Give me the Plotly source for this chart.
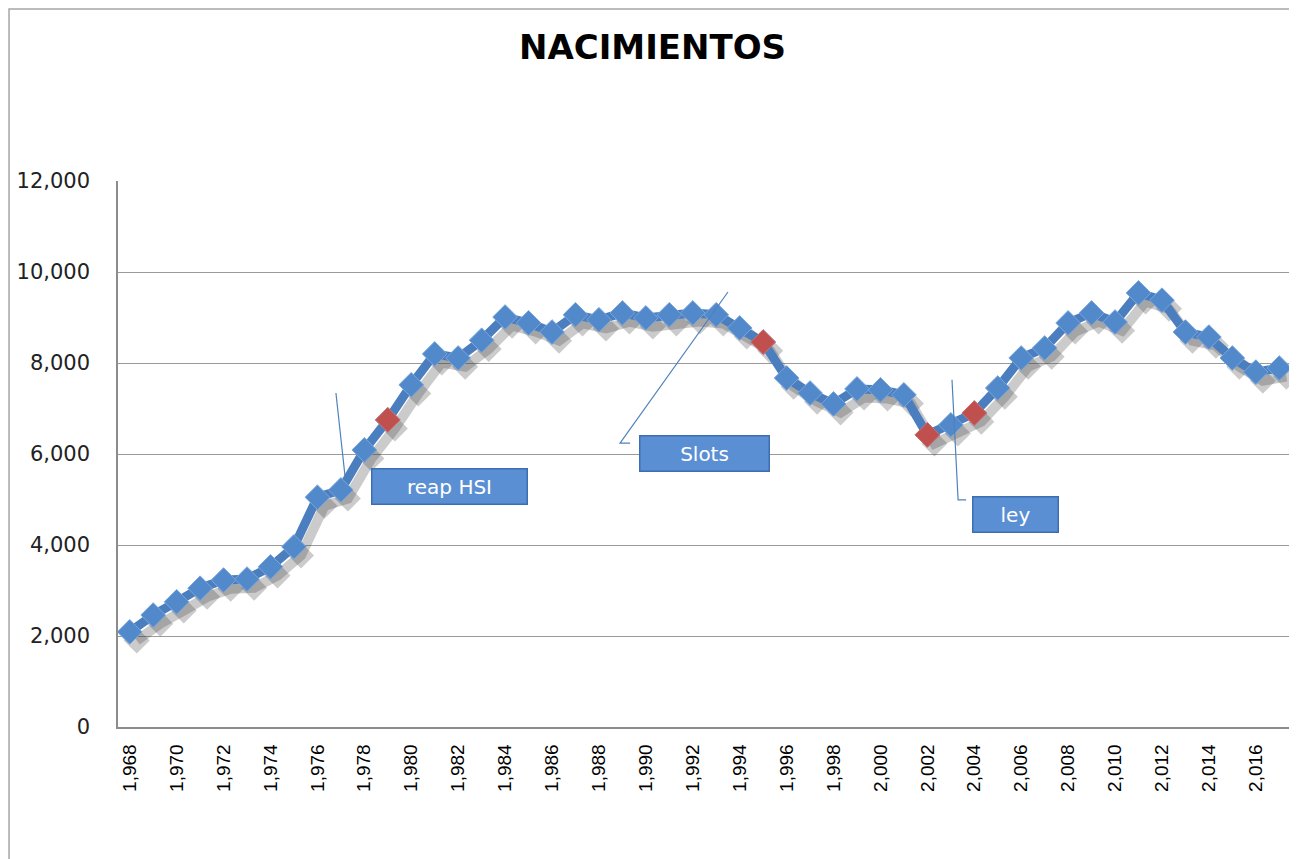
import plotly.graph_objects as go
import numpy as np

years = list(range(1968, 2018))
births = [2090, 2460, 2750, 3050, 3230, 3250, 3520, 3960, 5050, 5210,
          6090, 6750, 7520, 8200, 8110, 8500, 9010, 8880, 8680, 9060,
          8950, 9100, 8990, 9060, 9100, 9060, 8770, 8460, 7670, 7340,
          7100, 7430, 7410, 7300, 6420, 6640, 6900, 7450, 8110, 8330,
          8880, 9100, 8900, 9540, 9380, 8680, 8570, 8110, 7800, 7890]
highlight_years = [1979, 1995, 2002, 2004]
tick_years = list(range(1968, 2017, 2))
y_ticks = [0, 2000, 4000, 6000, 8000, 10000, 12000]

title = "NACIMIENTOS"
callouts = ["reap HSI", "Slots", "ley"]

blue_line = "#4a7ebf"
blue_mark = "#5289cb"
red_mark = "#c0504d"

hi_vals = [births[years.index(y)] for y in highlight_years]

fig = go.Figure()
# soft shadow
fig.add_trace(go.Scatter(
    x=np.array(years) + 0.3, y=np.array(births) - 190,
    mode="lines+markers",
    line=dict(color="rgba(70,70,70,0.28)", width=10),
    marker=dict(symbol="diamond", size=20, color="rgba(70,70,70,0.28)", line=dict(width=0)),
    hoverinfo="skip", showlegend=False))
fig.add_trace(go.Scatter(
    x=years, y=births, mode="lines+markers",
    line=dict(color=blue_line, width=9),
    marker=dict(symbol="diamond", size=19, color=blue_mark, line=dict(color="#7aa6dc", width=1)),
    showlegend=False))
fig.add_trace(go.Scatter(
    x=highlight_years, y=hi_vals, mode="markers",
    marker=dict(symbol="diamond", size=19, color=red_mark, line=dict(color="#d06a67", width=1)),
    showlegend=False))

# callout leader lines
line_style = dict(color="#4f81bd", width=1.2)
fig.add_shape(type="path", xref="x", yref="y",
              path="M 1976.79,7340 L 1977.18,5500", line=line_style)
fig.add_shape(type="path", xref="x", yref="y",
              path="M 1993.5,9560 L 1988.9,6240 L 1989.33,6240", line=line_style)
fig.add_shape(type="path", xref="x", yref="y",
              path="M 2003.05,7630 L 2003.31,4990 L 2003.65,4990", line=line_style)

box = dict(bgcolor="#5b8fd3", bordercolor="#3d6eb2", borderwidth=1.5,
           font=dict(family="DejaVu Sans, sans-serif", size=20, color="white"),
           showarrow=False, xref="x", yref="y", height=32)
fig.add_annotation(text=callouts[0], x=1981.63, y=5275, width=152, **box)
fig.add_annotation(text=callouts[1], x=1992.52, y=6010, width=126, **box)
fig.add_annotation(text=callouts[2], x=2005.74, y=4660, width=82, **box)

# outer border
fig.add_shape(type="rect", xref="paper", yref="paper",
              x0=-0.0929, x1=1.0043, y0=-0.25, y1=1.315,
              line=dict(color="#a6a6a6", width=1.5), layer="below")

fig.update_layout(
    width=1289, height=851,
    margin=dict(l=110, r=6, t=173, b=132),
    paper_bgcolor="white", plot_bgcolor="white",
    title=dict(text=title, x=0.5, xref="container", xanchor="center",
               y=1 - 39 / 851, yref="container", yanchor="middle",
               font=dict(family="DejaVu Sans, sans-serif", size=34, color="black", weight="bold")),
    xaxis=dict(range=[1967.5, 2017.5], tickvals=tick_years, tickformat=",d",
               tickangle=-90, showgrid=False, zeroline=False,
               showline=True, linecolor="#8c8c8c", linewidth=1.5,
               ticks="", ticklabelstandoff=8,
               tickfont=dict(family="Liberation Sans, Arial, sans-serif", size=19, color="black")),
    yaxis=dict(range=[0, 12000], tickvals=y_ticks, tickformat=",d",
               showgrid=True, gridcolor="#9a9a9a", gridwidth=1.2, zeroline=False,
               showline=True, linecolor="#8c8c8c", linewidth=1.5,
               ticks="", ticklabelstandoff=22,
               tickfont=dict(family="DejaVu Sans, sans-serif", size=21, color="#222222")),
)

fig.write_html("out.html")
